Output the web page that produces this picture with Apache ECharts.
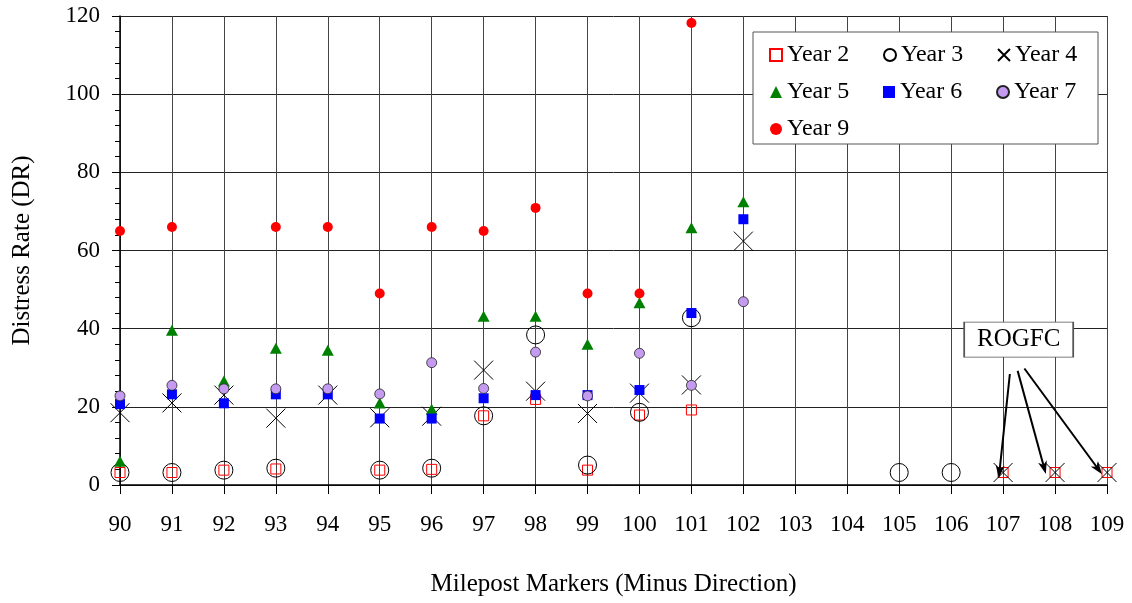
<!DOCTYPE html>
<html>
<head>
<meta charset="utf-8">
<script src="https://cdn.jsdelivr.net/npm/echarts@6/dist/echarts.min.js"></script>
<style>html,body{margin:0;padding:0;background:#fff}#c{width:1132px;height:603px}</style>
</head>
<body>
<div id="c"></div>
<script>
const mileposts = [90,91,92,93,94,95,96,97,98,99,100,101,102,103,104,105,106,107,108,109];
const year2 = [3.2,3.2,3.8,4.1,null,3.8,4.0,17.7,21.9,3.8,17.9,19.2,null,null,null,null,null,3.2,3.2,3.2];
const year3 = [3.2,3.2,3.8,4.3,null,3.8,4.3,17.7,38.4,5.1,18.6,42.8,null,null,null,3.2,3.2,null,null,null];
const year4 = [18.5,21,23,17.1,23,17.2,17.6,29.4,24,18.3,23.5,25.6,62.4,null,null,null,null,3.2,3.2,3.2];
const year5 = [6.1,39.6,26.6,35,34.5,21,19.4,43.2,43.2,36,46.6,65.8,72.5,null,null,null,null,null,null,null];
const year6 = [20.7,23.2,20.9,23.2,23.2,17,17,22.2,23,23,24.3,44,68,null,null,null,null,null,null,null];
const year7 = [22.8,25.5,24.6,24.6,24.6,23.3,31.3,24.7,34,22.8,33.7,25.5,46.9,null,null,null,null,null,null,null];
const year9 = [65,66,null,66,66,49,66,65,70.9,49,49,118.2,null,null,null,null,null,null,null,null];
const yTicks = {min:0, max:120, interval:20};
const seriesNames = ['Year 2','Year 3','Year 4','Year 5','Year 6','Year 7','Year 9'];
// annotation (data units)
const noteLabel = 'ROGFC';
const noteBox = [107.3, 37.2];
const noteArrows = [
  [[107.13,28.4],[106.93,3.4]],
  [[107.28,29.2],[107.79,4.4]],
  [[107.41,29.8],[108.83,4.1]]
];

const FONT = 'Liberation Serif';
function pts(arr){
  const out=[];
  arr.forEach((v,i)=>{ if(v!==null) out.push([mileposts[i], v]); });
  return out;
}
const xPath = 'path://M0,0L20,20M20,0L0,20';
const series = [
  {name:'Year 2', type:'scatter', data:pts(year2), symbol:'rect', symbolSize:10,
    itemStyle:{color:'rgba(255,255,255,0)', borderColor:'#ff0000', borderWidth:1, opacity:1}},
  {name:'Year 3', type:'scatter', data:pts(year3), symbol:'circle', symbolSize:18,
    itemStyle:{color:'rgba(255,255,255,0)', borderColor:'#000', borderWidth:1, opacity:1}},
  {name:'Year 4', type:'scatter', data:pts(year4), symbol:xPath, symbolSize:19,
    itemStyle:{color:'rgba(0,0,0,0)', borderColor:'#000', borderWidth:1, opacity:1}},
  {name:'Year 5', type:'scatter', data:pts(year5), symbol:'triangle', symbolSize:[12,11],
    itemStyle:{color:'#008000', opacity:1}},
  {name:'Year 6', type:'scatter', data:pts(year6), symbol:'rect', symbolSize:10,
    itemStyle:{color:'#0000ff', opacity:1}},
  {name:'Year 7', type:'scatter', data:pts(year7), symbol:'circle', symbolSize:10,
    itemStyle:{color:'#c49bf0', borderColor:'#222', borderWidth:0.8, opacity:1}},
  {name:'Year 9', type:'scatter', data:pts(year9), symbol:'circle', symbolSize:10,
    itemStyle:{color:'#ff0000', opacity:1}},
  {name:'annot', type:'scatter', data:[], silent:true, z:10,
    markLine:{
      silent:true, animation:false,
      symbol:['none','path://M0,0L6,14L0,10L-6,14Z'], symbolSize:[9,13],
      lineStyle:{color:'#000', width:2, type:'solid'},
      label:{show:false},
      data: noteArrows.map(a=>[{coord:a[0]},{coord:a[1]}])
    },
    markPoint:{
      silent:true, animation:false,
      symbol:'rect', symbolSize:[109,35],
      itemStyle:{color:'#fff', borderColor:'#555', borderWidth:1},
      label:{show:true, position:'inside', formatter:noteLabel, color:'#000', fontFamily:FONT, fontSize:25},
      data:[{coord:noteBox}]
    }
  }
];

const chart = echarts.init(document.getElementById('c'));
chart.setOption({
  animation:false,
  backgroundColor:'#fff',
  grid:{left:120, right:25, top:16, bottom:118},
  legend:{
    data:seriesNames,
    left:753, top:32, width:330,
    orient:'horizontal',
    padding:[11,0,3,16],
    itemWidth:12, itemHeight:12, itemGap:13,
    borderColor:'#555', borderWidth:1, backgroundColor:'#fff',
    textStyle:{fontFamily:FONT, fontSize:24, color:'#000', width:83, lineHeight:24}
  },
  xAxis:{
    type:'value', min:mileposts[0], max:mileposts[mileposts.length-1], interval:1,
    name:'Milepost Markers (Minus Direction)', nameLocation:'middle', nameGap:87,
    nameTextStyle:{fontFamily:FONT, fontSize:25, color:'#000'},
    axisLine:{show:true, onZero:false, lineStyle:{color:'#000', width:1.5}},
    axisTick:{show:true, length:9, lineStyle:{color:'#000'}},
    axisLabel:{fontFamily:FONT, fontSize:23, color:'#000', margin:28},
    splitLine:{show:true, lineStyle:{color:'#444', width:1}}
  },
  yAxis:{
    type:'value', min:yTicks.min, max:yTicks.max, interval:yTicks.interval,
    name:'Distress Rate (DR)', nameLocation:'middle', nameGap:85,
    nameTextStyle:{fontFamily:FONT, fontSize:25, color:'#000'},
    axisLine:{show:true, lineStyle:{color:'#000', width:1.5}},
    axisTick:{show:true, length:8, lineStyle:{color:'#000'}},
    minorTick:{show:true, splitNumber:5, length:5, lineStyle:{color:'#000'}},
    axisLabel:{fontFamily:FONT, fontSize:23, color:'#000', margin:20},
    splitLine:{show:true, lineStyle:{color:'#222', width:1}}
  },
  series:series
});
</script>
</body>
</html>
